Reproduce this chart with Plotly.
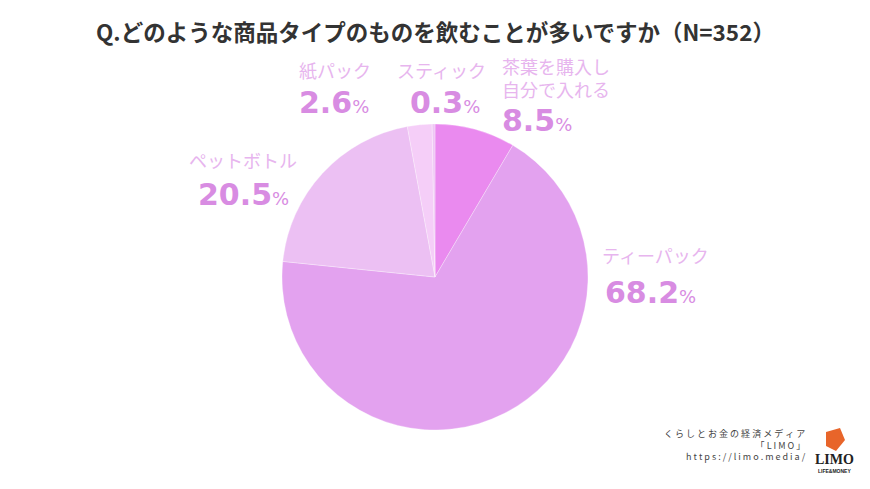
import plotly.graph_objects as go

title = "Q.どのような商品タイプのものを飲むことが多いですか（N=352）"
categories = ["茶葉を購入し自分で入れる", "ティーパック", "ペットボトル", "紙パック", "スティック"]
display_names = ["茶葉を購入し<br>自分で入れる", "ティーパック", "ペットボトル", "紙パック", "スティック"]
values = [8.5, 68.2, 20.5, 2.6, 0.3]
colors = ["#ea8aef", "#e3a2ef", "#ecc0f3", "#f5cef8", "#efc6f5"]

W, H = 870, 489
fig = go.Figure()
fig.add_trace(go.Pie(
    labels=categories, values=values, sort=False, direction="clockwise", rotation=0,
    marker=dict(colors=colors, line=dict(color="rgba(255,255,255,0.6)", width=0.5)),
    textinfo="none", hoverinfo="label+percent", showlegend=False,
    domain=dict(x=[282/W, 588/W], y=[1-430/H, 1-124/H]),
))

# label layout: (name x, name y, pct x, pct y, anchor)
label_pos = [
    (500, 78, 500, 120, "left"),
    (600, 255, 603, 292, "left"),
    (243, 160, 243, 195, "center"),
    (297, 70, 297, 103, "left"),
    (395, 70, 408, 103, "left"),
]
name_color = "#e7b5ee"
pct_color = "#d88ce2"
ann = []
for name, v, (nx, ny, px, py, anc) in zip(display_names, values, label_pos):
    ann.append(dict(x=nx/W, y=1-ny/H, xref="paper", yref="paper", text=name,
                    showarrow=False, xanchor=anc, yanchor="middle", align=anc,
                    font=dict(family="Noto Sans CJK JP", size=18, color=name_color)))
    ann.append(dict(x=px/W, y=1-py/H, xref="paper", yref="paper",
                    text=f"<b>{v}</b><span style='font-size:18px'>%</span>",
                    showarrow=False, xanchor=anc, yanchor="middle",
                    font=dict(family="DejaVu Sans", size=30, color=pct_color)))

ann.append(dict(x=435/W, y=1-31/H, xref="paper", yref="paper", text=f"<b>{title}</b>",
                showarrow=False, xanchor="center", yanchor="middle",
                font=dict(family="Noto Sans CJK JP", size=22.5, color="#333333")))
ann.append(dict(x=808/W, y=1-445/H, xref="paper", yref="paper",
                text="く ら し と お 金 の 経 済 メ デ ィ ア<br>「 L I M O 」<br>h t t p s : / / l i m o . m e d i a /",
                showarrow=False, xanchor="right", yanchor="middle", align="right",
                font=dict(family="Noto Sans CJK JP", size=9, color="#444444")))
ann.append(dict(x=834/W, y=1-459/H, xref="paper", yref="paper", text="<b>LIMO</b>",
                showarrow=False, xanchor="center", yanchor="middle",
                font=dict(family="Liberation Serif", size=14, color="#222222")))
ann.append(dict(x=834/W, y=1-471/H, xref="paper", yref="paper", text="<b>LIFE&MONEY</b>",
                showarrow=False, xanchor="center", yanchor="middle",
                font=dict(family="Liberation Sans", size=5, color="#222222")))

fig.update_layout(
    width=W, height=H, margin=dict(l=0, r=0, t=0, b=0),
    paper_bgcolor="white", plot_bgcolor="white", annotations=ann,
    shapes=[dict(type="path", xref="paper", yref="paper",
                 path=f"M {826/W} {1-432/H} L {840/W} {1-428/H} L {845/W} {1-440/H} L {836/W} {1-451/H} L {826/W} {1-446/H} Z",
                 fillcolor="#e8652a", line=dict(width=0))],
)
fig.write_html("out.html", config={"displayModeBar": False},
               post_script="document.body.style.margin='0';document.body.style.overflow='hidden';")
